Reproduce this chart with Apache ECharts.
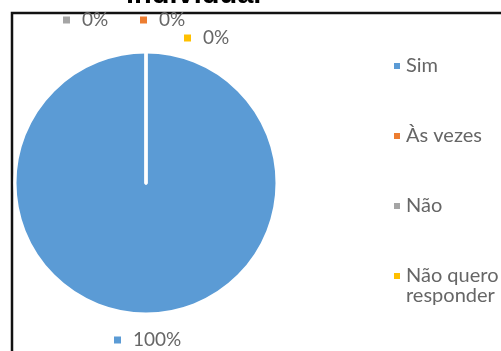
<!DOCTYPE html>
<html>
<head>
<meta charset="utf-8">
<script src="https://cdn.jsdelivr.net/npm/echarts@6/dist/echarts.min.js"></script>
<style>
  html, body { margin: 0; padding: 0; background: #fff; }
  #main { width: 501px; height: 351px; }
</style>
</head>
<body>
<div id="main"></div>
<script>
  // dados
  var categorias = ["Sim", "Às vezes", "Não", "Não quero responder"];
  var valores = [100, 0, 0, 0];
  var cores = ["#5B9BD5", "#ED7D31", "#A5A5A5", "#FFC000"];
  var titulo = "individual";

  var myChart = echarts.init(document.getElementById("main"));

  // posição de cada rótulo (o gráfico original tem rótulos soltos)
  var posRotulos = [
    { x: 114, y: 340 },
    { x: 140, y: 20 },
    { x: 63, y: 20 },
    { x: 184, y: 38 }
  ];

  var rich = {};
  cores.forEach(function (c, i) {
    rich["s" + i] = { backgroundColor: c, width: 7, height: 7 };
  });
  rich.t = { color: "#666", fontSize: 19, fontFamily: "Lato", padding: [0, 0, 0, 12] };

  var option = {
    title: {
      text: titulo,
      left: 121,
      top: -25,
      textStyle: { fontFamily: "Liberation Sans", fontWeight: "bold", fontSize: 29, color: "#000" }
    },
    graphic: [
      {
        type: "rect",
        shape: { x: 12, y: 13, width: 520, height: 360 },
        style: { fill: null, stroke: "#111", lineWidth: 2.5 },
        z: 0
      }
    ],
    legend: {
      orient: "vertical",
      left: 387,
      top: 31,
      itemGap: 10,
      icon: "rect",
      itemWidth: 8,
      itemHeight: 8,
      data: categorias,
      // cada item tem 3 linhas (vazia, nome, vazia ou 2ª parte),
      // assim o ícone fica sempre alinhado com a primeira linha do nome
      formatter: function (name) {
        if (name.indexOf(" responder") > 0) return "\n" + name.replace(" responder", "\nresponder");
        return "\n" + name + "\n";
      },
      textStyle: { color: "#666", fontSize: 20, fontFamily: "Lato", lineHeight: 20 }
    },
    series: [
      {
        type: "pie",
        center: [146, 183],
        radius: 131,
        startAngle: 90,
        clockwise: true,
        stillShowZeroSum: true,
        avoidLabelOverlap: false,
        itemStyle: { borderColor: "#fff", borderWidth: 3 },
        label: {
          show: true,
          formatter: function (p) {
            return "{s" + p.dataIndex + "|}{t|" + p.percent.toFixed(0) + "%}";
          },
          rich: rich
        },
        labelLine: { show: false },
        labelLayout: function (params) {
          var p = posRotulos[params.dataIndex];
          return { x: p.x, y: p.y, align: "left", verticalAlign: "middle" };
        },
        emphasis: { disabled: true },
        data: categorias.map(function (n, i) {
          return { name: n, value: valores[i], itemStyle: { color: cores[i] } };
        })
      }
    ]
  };

  myChart.setOption(option);
</script>
</body>
</html>
